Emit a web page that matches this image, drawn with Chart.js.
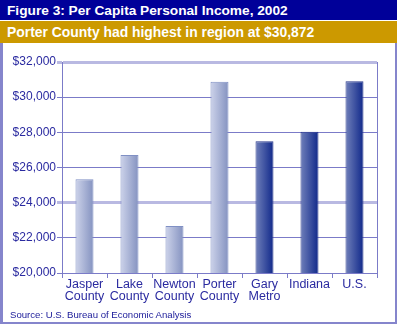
<!DOCTYPE html>
<html>
<head>
<meta charset="utf-8">
<script src="https://cdn.jsdelivr.net/npm/chart.js@4/dist/chart.umd.min.js"></script>
<style>
    html, body { margin: 0; padding: 0; background: #fff; }
    body { width: 397px; height: 324px; position: relative; overflow: hidden; font-family: "Liberation Sans", Arial, sans-serif; }
    #titre { position: absolute; left: 0; top: 0; width: 397px; height: 20px; background: #000099; color: #fff; font-weight: bold; font-size: 13.7px; line-height: 21px; text-indent: 7px; }
    #sous-titre { position: absolute; left: 0; top: 21px; width: 397px; height: 22px; background: #cc9900; color: #fff; font-weight: bold; font-size: 13.9px; line-height: 22px; text-indent: 7px; }
    #cadre { position: absolute; left: 0; top: 43px; width: 392px; height: 279px; border-left: 3px solid #8585cc; border-right: 2px solid #8585cc; border-bottom: 2px solid #8585cc; }
    #source { position: absolute; left: 10px; top: 309px; font-size: 9.6px; color: #1a1a99; }
    #grafico { position: absolute; left: 0; top: 0; }
</style>
</head>
<body>
<div id="titre">Figure 3: Per Capita Personal Income, 2002</div>
<div id="sous-titre">Porter County had highest in region at $30,872</div>
<div id="cadre"></div>
<canvas id="grafico" width="397" height="324"></canvas>
<div id="source">Source: U.S. Bureau of Economic Analysis</div>
<script>
// Dados
const regioes = [['Jasper', 'County'], ['Lake', 'County'], ['Newton', 'County'], ['Porter', 'County'], ['Gary', 'Metro'], 'Indiana', 'U.S.'];
const rendaPerCapita = [25330, 26710, 22680, 30872, 27500, 28030, 30910];
const barrasEscuras = [false, false, false, false, true, true, true];
const ticksY = [20000, 22000, 24000, 26000, 28000, 30000, 32000];

const azulTexto = '#2a2aa0';
const corGrade = '#7b7bc8';
const corGradeClara = '#b9b9e2';

// Gradiente horizontal para cada barra
function corBarra(context) {
    const chart = context.chart;
    if (!chart.chartArea) return '#9aa4cc';
    const x = chart.scales.x.getPixelForValue(context.dataIndex);
    const meia = chart.scales.x.width / regioes.length * 0.4 / 2;
    const grad = chart.ctx.createLinearGradient(x - meia, 0, x + meia, 0);
    if (barrasEscuras[context.dataIndex]) {
        grad.addColorStop(0, '#7080ba');
        grad.addColorStop(1, '#10288a');
    } else {
        grad.addColorStop(0, '#cdd3ea');
        grad.addColorStop(1, '#8492c0');
    }
    return grad;
}

// Linha da direita da área do gráfico
const molduraDireita = {
    id: 'molduraDireita',
    afterDraw(chart) {
        const { ctx, chartArea } = chart;
        ctx.save();
        ctx.strokeStyle = corGrade;
        ctx.lineWidth = 1;
        ctx.beginPath();
        ctx.moveTo(chartArea.right + 0.5, chartArea.top);
        ctx.lineTo(chartArea.right + 0.5, chartArea.bottom);
        ctx.stroke();
        ctx.restore();
    }
};

new Chart(document.getElementById('grafico'), {
    type: 'bar',
    data: {
        labels: regioes,
        datasets: [{
            data: rendaPerCapita,
            backgroundColor: corBarra,
            borderColor: (c) => barrasEscuras[c.dataIndex] ? '#2a3a8c' : '#8090c4',
            borderWidth: 1,
            borderSkipped: 'bottom',
            barPercentage: 0.4,
            categoryPercentage: 1
        }]
    },
    options: {
        responsive: false,
        animation: false,
        layout: { padding: { top: 62, right: 20, left: 0, bottom: 0 } },
        plugins: { legend: { display: false }, tooltip: { enabled: false } },
        scales: {
            x: {
                afterFit: (scale) => { scale.height = 51; },
                grid: { drawOnChartArea: false, color: corGrade, tickLength: 5, offset: true },
                border: { color: corGrade },
                ticks: {
                    color: azulTexto,
                    padding: 1,
                    maxRotation: 0,
                    minRotation: 0,
                    autoSkip: false,
                    font: { family: 'Liberation Sans', size: 12.5, lineHeight: 0.95 }
                }
            },
            y: {
                min: 20000,
                max: 32000,
                afterFit: (scale) => { scale.width = 62; },
                afterBuildTicks: (scale) => { scale.ticks = ticksY.map(v => ({ value: v })); },
                grid: {
                    color: (c) => (c.tick && (c.tick.value === 32000 || c.tick.value === 24000)) ? corGradeClara : corGrade,
                    lineWidth: (c) => (c.tick && (c.tick.value === 32000 || c.tick.value === 24000)) ? 3 : 1,
                    tickLength: 5
                },
                border: { color: corGrade },
                ticks: {
                    color: azulTexto,
                    padding: 1,
                    font: { family: 'Liberation Sans', size: 12 },
                    callback: (v) => '$' + v.toLocaleString('en-US')
                }
            }
        }
    },
    plugins: [molduraDireita]
});
</script>
</body>
</html>
